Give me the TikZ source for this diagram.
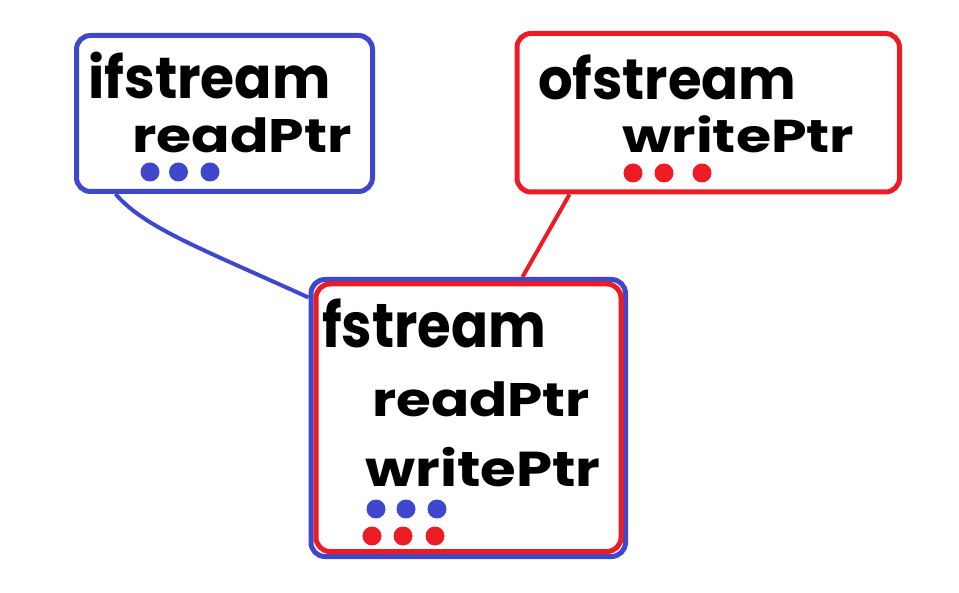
\documentclass[tikz,border=0pt]{standalone}
\usepackage{fontspec}
\setmainfont{Poppins}
\definecolor{pblue}{RGB}{63,72,204}
\definecolor{pred}{RGB}{237,28,36}
\newcommand\lblfont[2]{\fontsize{#1}{#1}\bfseries\addfontfeatures{FakeStretch=#2}}
\tikzset{
 box/.style={draw, line width=5pt, rounded corners=14pt, inner sep=0pt},
 lbl/.style={anchor=base west, inner sep=0pt, text=black},
}

\begin{document}
\begin{tikzpicture}[x=1pt,y=-1pt]
\useasboundingbox (0,0) rectangle (959,593);
% the three boxes
\node[box, pblue, minimum width=296pt, minimum height=156pt] (ifs) at (224.5,113.5) {};
\node[box, pred, minimum width=382.5pt, minimum height=158.5pt] (ofs) at (708.25,112.75) {};
\node[box, pblue, minimum width=314.5pt, minimum height=277pt] (fsb) at (468.25,418) {};
\node[box, pred, minimum width=305pt, minimum height=267.5pt] (fsr) at (468.5,417.75) {};
% connectors
\draw[pblue, line width=4pt] ([xshift=41.5pt]ifs.south west) .. controls (145,228) and (200,248) .. ([yshift=-20.5pt]fsb.north west);
\draw[pred, line width=4pt] ([xshift=55pt]ofs.south west) -- ([xshift=214pt]fsb.north west);
% names and pointers
\node[lbl, font=\lblfont{58}{0.95}] (ifsname) at (88,99) {ifstream};
\node[lbl, font=\lblfont{47}{1.21}] (ifsptr) at (132,153) {readPtr};
\node[lbl, font=\lblfont{57}{0.955}] (ofsname) at (538,100) {ofstream};
\node[lbl, font=\lblfont{46}{1.24}] (ofsptr) at (622,153) {writePtr};
\node[lbl, font=\lblfont{62}{0.88}] (fsname) at (322,348) {fstream};
\node[lbl, font=\lblfont{47}{1.2}] (fsread) at (372,417) {readPtr};
\node[lbl, font=\lblfont{49}{1.18}] (fswrite) at (365,487) {writePtr};
% dots
\foreach \x in {150,178.5,210} \fill[pblue] (\x,172) circle (9.5pt);
\foreach \x in {633,664,702} \fill[pred] (\x,173) circle (9.5pt);
\foreach \x in {376,406,437} \fill[pblue] (\x,509) circle (9.5pt);
\foreach \x in {372,403,435} \fill[pred] (\x,536) circle (9.5pt);
\end{tikzpicture}
\end{document}
